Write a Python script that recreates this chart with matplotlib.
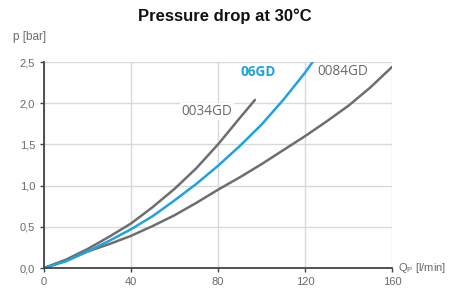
import matplotlib
matplotlib.use("Agg")
import matplotlib.pyplot as plt
import numpy as np

# curves (Q in l/min, p in bar)
q_0034 = [0, 10, 20, 30, 40, 50, 60, 70, 80, 90, 97]
p_0034 = [0, 0.10, 0.23, 0.38, 0.54, 0.74, 0.96, 1.21, 1.50, 1.82, 2.04]

q_06 = [0, 10, 20, 30, 40, 50, 60, 70, 80, 90, 100, 110, 120, 123.5]
p_06 = [0, 0.08, 0.20, 0.33, 0.47, 0.63, 0.82, 1.02, 1.24, 1.48, 1.74, 2.04, 2.37, 2.50]

q_0084 = [0, 10, 20, 30, 40, 50, 60, 70, 80, 90, 100, 110, 120, 130, 140, 150, 160]
p_0084 = [0, 0.09, 0.20, 0.29, 0.39, 0.51, 0.64, 0.79, 0.95, 1.10, 1.26, 1.43,
          1.60, 1.78, 1.97, 2.19, 2.44]

x_ticks = [0, 40, 80, 120, 160]
y_ticks = [0.0, 0.5, 1.0, 1.5, 2.0, 2.5]
y_labels = ["0,0", "0,5", "1,0", "1,5", "2,0", "2,5"]

GRAY = "#6e6e6e"
BLUE = "#1ea3dc"
TXT = "#6a6a6a"

plt.rcParams["font.family"] = ["Liberation Sans", "DejaVu Sans"]

fig = plt.figure(figsize=(4.5, 2.9), dpi=100)
ax = fig.add_axes([44 / 450, 22 / 290, 348 / 450, 206 / 290])

ax.plot(q_0034, p_0034, color=GRAY, lw=1.8, solid_capstyle="round", solid_joinstyle="round")
ax.plot(q_0084, p_0084, color=GRAY, lw=1.8, solid_capstyle="round", solid_joinstyle="round")
ax.plot(q_06, p_06, color=BLUE, lw=1.8, solid_capstyle="round", solid_joinstyle="round")

ax.text(75, 1.9, "0034GD", color=TXT, fontsize=9.8, family="Open Sans",
        ha="center", va="center",
        bbox=dict(facecolor="white", edgecolor="none", pad=1))
ax.text(98.5, 2.38, "06GD", color=BLUE, fontsize=9.8, family="Open Sans",
        fontweight="bold", ha="center", va="center",
        bbox=dict(facecolor="white", edgecolor="none", pad=1))
ax.text(137.5, 2.38, "0084GD", color=TXT, fontsize=9.8, family="Open Sans",
        ha="center", va="center",
        bbox=dict(facecolor="white", edgecolor="none", pad=1))

ax.set_xlim(0, 160)
ax.set_ylim(0, 2.5)
ax.set_xticks(x_ticks)
ax.set_yticks(y_ticks)
ax.set_yticklabels(y_labels)
ax.grid(True, color="#d9d9d9", lw=1.0)
ax.set_axisbelow(True)

for s in ["top", "right"]:
    ax.spines[s].set_visible(False)
for s in ["left", "bottom"]:
    ax.spines[s].set_color("#444444")
    ax.spines[s].set_linewidth(1.3)
ax.tick_params(colors="#444444", labelcolor=TXT, labelsize=8, length=3, width=1)

fig.text(0.5, 0.945, "Pressure drop at 30°C", ha="center", va="center",
         fontsize=12, fontweight="bold", color="#111111")
fig.text(13 / 450, 1 - 37 / 290, "p [bar]", ha="left", va="center",
         fontsize=8.5, color=TXT)
fig.text(398 / 450, 22 / 290, r"Q$_\mathregular{P}$ [l/min]", ha="left", va="center",
         fontsize=8, color=TXT)

fig.savefig("out.png", dpi=100)
